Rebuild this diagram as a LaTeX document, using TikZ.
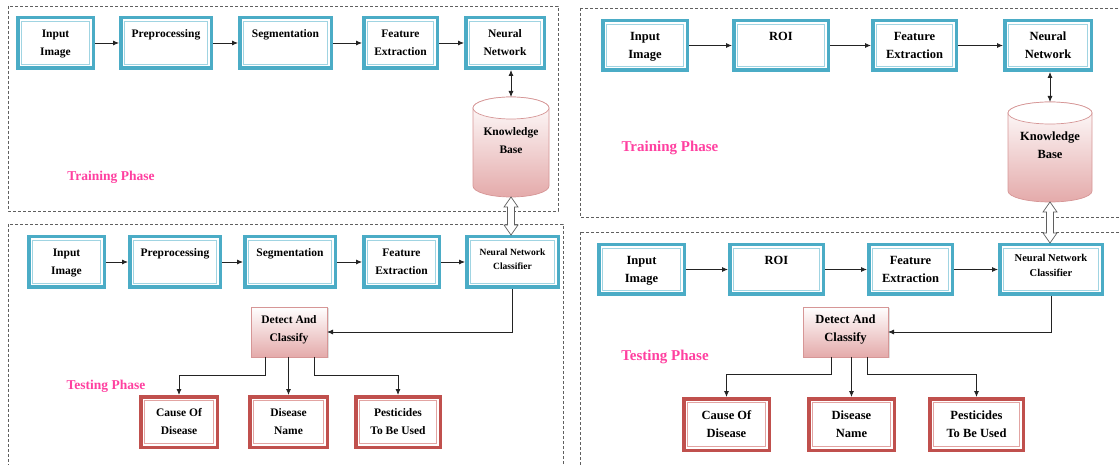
\documentclass[tikz,border=0pt]{standalone}
\usepackage{fontspec}
\setmainfont{Liberation Serif}
\usetikzlibrary{arrows.meta,calc,shadows}
\definecolor{boxblue}{RGB}{75,172,198}
\definecolor{boxblueIn}{RGB}{160,212,226}
\definecolor{boxred}{RGB}{192,80,77}
\definecolor{boxredIn}{RGB}{226,164,162}
\definecolor{kbpink}{RGB}{228,170,170}
\definecolor{kbline}{RGB}{214,150,150}
\definecolor{phasec}{RGB}{255,64,160}
\definecolor{connc}{RGB}{35,35,35}
\definecolor{dashc}{RGB}{95,95,95}
\newcommand\tl[2]{\strut#1\\\strut#2}
\newcommand\cyl[5]{%
  \shadedraw[top color=white, bottom color=kbpink, draw=kbline, line width=0.7pt]
    (#1-#4,#2-#5) -- (#1-#4,#3+#5) arc[start angle=180,end angle=360,x radius=#4pt,y radius=#5pt]
    -- (#1+#4,#2-#5) arc[start angle=0,end angle=180,x radius=#4pt,y radius=#5pt] -- cycle;
  \draw[kbline, line width=0.7pt, fill=white] (#1,#2-#5) ellipse[x radius=#4pt, y radius=#5pt];}
\newcommand\hollow[2]{%
  \draw[draw=dashc, fill=white, line width=0.7pt] let \p1=(#1), \p2=(#2) in
    (\x1,\y1) -- (\x1+7pt,\y1-10pt) -- (\x1+3.5pt,\y1-10pt) -- (\x1+3.5pt,\y2+10pt)
    -- (\x1+7pt,\y2+10pt) -- (\x1,\y2) -- (\x1-7pt,\y2+10pt) -- (\x1-3.5pt,\y2+10pt)
    -- (\x1-3.5pt,\y1-10pt) -- (\x1-7pt,\y1-10pt) -- cycle;}
\begin{document}
\begin{tikzpicture}[x=1pt,y=1pt,
  sz/.style 2 args={minimum width=#1pt, minimum height=#2pt},
  base/.style={rectangle, inner sep=0pt, outer sep=1.75pt, line width=3.5pt, fill=white, align=center},
  bl/.style={base, draw=boxblue, font=\fontsize{11.5}{18}\selectfont\bfseries},
  br/.style={base, draw=boxblue, font=\fontsize{12.5}{18}\selectfont\bfseries},
  rl/.style={base, draw=boxred, font=\fontsize{11.5}{18}\selectfont\bfseries},
  rr/.style={base, draw=boxred, font=\fontsize{12.5}{18}\selectfont\bfseries},
  txtl/.style={align=center, inner sep=0pt, font=\fontsize{11.5}{18}\selectfont\bfseries},
  txtr/.style={align=center, inner sep=0pt, font=\fontsize{12.5}{18}\selectfont\bfseries},
  nnctl/.style={align=center, inner sep=0pt, font=\fontsize{9.5}{14}\selectfont\bfseries},
  nnctr/.style={align=center, inner sep=0pt, font=\fontsize{10.5}{15}\selectfont\bfseries},
  kbox/.style={rectangle, inner sep=0pt, outer sep=0pt},
  detbox/.style={rectangle, inner sep=0pt, outer sep=0pt, draw=kbline, line width=0.7pt,
     top color=white, bottom color=kbpink,
     drop shadow={opacity=0.25, shadow xshift=1.5pt, shadow yshift=-1.5pt}},
  phl/.style={text=phasec, font=\fontsize{13.5}{16}\selectfont\bfseries},
  phr/.style={text=phasec, font=\fontsize{15}{18}\selectfont\bfseries},
  conn/.style={draw=connc, line width=0.8pt, -{Latex[length=6pt,width=5pt]}},
  dconn/.style={draw=connc, line width=0.8pt, {Latex[length=6pt,width=5pt]}-{Latex[length=6pt,width=5pt]}},
  dashbox/.style={draw=dashc, line width=0.8pt, dash pattern=on 3pt off 2pt},
  inblue/.style={draw=boxblueIn, line width=0.9pt},
  inred/.style={draw=boxredIn, line width=0.9pt}
]
\useasboundingbox (0,0) rectangle (1120,464);
% dashed frames
\draw[dashbox] (8,458) rectangle (558,253);
\draw[dashbox] (8,240) rectangle (563,-10);
\draw[dashbox] (580,456) rectangle (1130,247);
\draw[dashbox] (580,232) rectangle (1130,-10);

% ===== LEFT: training =====
\node[bl, sz={75.5}{50.5}] (inL) at (55.5,421) {\tl{Input}{Image}};
\node[bl, sz={90.5}{50.5}] (ppL) at (166,421) {\tl{Preprocessing}{}};
\node[bl, sz={91.5}{50.5}] (sgL) at (285.5,421) {\tl{Segmentation}{}};
\node[bl, sz={73.5}{50.5}] (feL) at (400.5,421) {\tl{Feature}{Extraction}};
\node[bl, sz={78.5}{50.5}] (nnL) at (505,421) {\tl{Neural}{Network}};
\cyl{511}{367}{267}{38}{11}
\node[kbox, sz={76}{100}] (kbL) at (511,317) {};
\node[txtl] (kbLt) at (511,323.5) {\tl{Knowledge}{Base}};
\node[phl] (trL) at (111,287) {Training Phase};

% ===== LEFT: testing =====
\node[bl, sz={75.5}{50.5}] (inL2) at (66.5,202) {\tl{Input}{Image}};
\node[bl, sz={90.5}{50.5}] (ppL2) at (175,202) {\tl{Preprocessing}{}};
\node[bl, sz={90.5}{50.5}] (sgL2) at (290,202) {\tl{Segmentation}{}};
\node[bl, sz={75.5}{50.5}] (feL2) at (401.5,202) {\tl{Feature}{Extraction}};
\node[bl, sz={91.5}{50.5}] (nncL) at (512.5,202) {};
\node[nnctl] (nncLt) at (512.5,205) {Neural Network\\Classifier};
\node[detbox, sz={76}{50}] (detL) at (289,132) {};
\node[txtl] (detLt) at (289,135) {\tl{Detect And}{Classify}};
\node[rl, sz={76.5}{50.5}] (caL) at (179,42) {\tl{Cause Of}{Disease}};
\node[rl, sz={77.5}{50.5}] (dnL) at (288.5,42) {\tl{Disease}{Name}};
\node[rl, sz={84.5}{50.5}] (peL) at (398,42) {\tl{Pesticides}{To Be Used}};
\node[phl] (tsL) at (106,78) {Testing Phase};

% ===== RIGHT: training =====
\node[br, sz={84.5}{49.5}] (inR) at (645,418.5) {\tl{Input}{Image}};
\node[br, sz={94.5}{49.5}] (roR) at (781,418.5) {\tl{ROI}{}};
\node[br, sz={83.5}{49.5}] (feR) at (914.5,418.5) {\tl{Feature}{Extraction}};
\node[br, sz={86.5}{49.5}] (nnR) at (1048,418.5) {\tl{Neural}{Network}};
\cyl{1050}{362}{262}{42}{11}
\node[kbox, sz={84}{100}] (kbR) at (1050,312) {};
\node[txtr] (kbRt) at (1050,318) {\tl{Knowledge}{Base}};
\node[phr] (trR) at (670,316) {Training Phase};

% ===== RIGHT: testing =====
\node[br, sz={85.5}{49.5}] (inR2) at (641.5,194.5) {\tl{Input}{Image}};
\node[br, sz={93.5}{49.5}] (roR2) at (776.5,194.5) {\tl{ROI}{}};
\node[br, sz={83.5}{49.5}] (feR2) at (910.5,194.5) {\tl{Feature}{Extraction}};
\node[br, sz={102.5}{49.5}] (nncR) at (1051,194.5) {};
\node[nnctr] (nncRt) at (1051,198.5) {Neural Network\\Classifier};
\node[detbox, sz={85}{50}] (detR) at (845.5,132) {};
\node[txtr] (detRt) at (845.5,135) {\tl{Detect And}{Classify}};
\node[rr, sz={85.5}{51.5}] (caR) at (726.5,39.5) {\tl{Cause Of}{Disease}};
\node[rr, sz={85.5}{51.5}] (dnR) at (851.5,39.5) {\tl{Disease}{Name}};
\node[rr, sz={93.5}{51.5}] (peR) at (976.5,39.5) {\tl{Pesticides}{To Be Used}};
\node[phr] (tsR) at (665,107) {Testing Phase};

% inner thin lines of the double borders
\foreach \n in {inL,ppL,sgL,feL,nnL,inL2,ppL2,sgL2,feL2,nncL,inR,roR,feR,nnR,inR2,roR2,feR2,nncR}
  \draw[inblue] ([shift={(5.25pt,-5.25pt)}]\n.north west) rectangle ([shift={(-5.25pt,5.25pt)}]\n.south east);
\foreach \n in {caL,dnL,peL,caR,dnR,peR}
  \draw[inred] ([shift={(5.25pt,-5.25pt)}]\n.north west) rectangle ([shift={(-5.25pt,5.25pt)}]\n.south east);

% connectors left
\draw[conn] (inL) -- (ppL);
\draw[conn] (ppL) -- (sgL);
\draw[conn] (sgL) -- (feL);
\draw[conn] (feL) -- (nnL);
\draw[dconn] (kbL.north |- nnL.south) -- (kbL.north);
\draw[conn] (inL2) -- (ppL2);
\draw[conn] (ppL2) -- (sgL2);
\draw[conn] (sgL2) -- (feL2);
\draw[conn] (feL2) -- (nncL);
\draw[conn] (nncL.south) |- (detL.east);
\draw[conn] ([xshift=-24pt]detL.south) -- ++(0,-18) -| (caL.north);
\draw[conn] (detL.south -| dnL.north) -- (dnL.north);
\draw[conn] ([xshift=25pt]detL.south) -- ++(0,-18) -| (peL.north);
\hollow{kbL.south}{nncL.north}

% connectors right
\draw[conn] (inR) -- (roR);
\draw[conn] (roR) -- (feR);
\draw[conn] (feR) -- (nnR);
\draw[dconn] (kbR.north |- nnR.south) -- (kbR.north);
\draw[conn] (inR2) -- (roR2);
\draw[conn] (roR2) -- (feR2);
\draw[conn] (feR2) -- (nncR);
\draw[conn] (nncR.south) |- (detR.east);
\draw[conn] ([xshift=-14.5pt]detR.south) -- ++(0,-17) -| (caR.north);
\draw[conn] (detR.south -| dnR.north) -- (dnR.north);
\draw[conn] ([xshift=21.5pt]detR.south) -- ++(0,-17) -| (peR.north);
\hollow{kbR.south}{nncR.north}
\end{tikzpicture}
\end{document}
